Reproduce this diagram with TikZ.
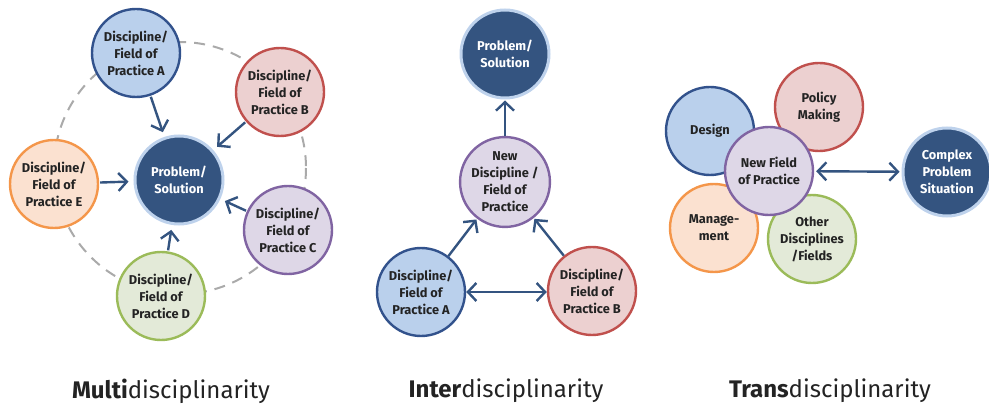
\documentclass[tikz,border=0pt]{standalone}
\usepackage{fontspec}
\setmainfont{Fira Sans}
\usetikzlibrary{arrows.meta}
\definecolor{navy}{RGB}{52,84,128}
\definecolor{halo}{RGB}{190,210,236}
\definecolor{bluefill}{RGB}{186,208,236}
\definecolor{blueline}{RGB}{50,82,140}
\definecolor{redfill}{RGB}{236,208,208}
\definecolor{redline}{RGB}{192,80,77}
\definecolor{purfill}{RGB}{222,215,231}
\definecolor{purline}{RGB}{128,100,162}
\definecolor{orfill}{RGB}{251,225,208}
\definecolor{orline}{RGB}{244,150,74}
\definecolor{grfill}{RGB}{227,234,216}
\definecolor{grline}{RGB}{155,187,89}
\definecolor{ringgray}{RGB}{170,170,170}
\definecolor{txt}{RGB}{35,35,35}
\tikzset{
  disc/.style={circle, minimum size=88pt, inner sep=0pt, line width=2.4pt,
    align=center, text=txt, font=\fontsize{12.8}{17}\selectfont\bfseries},
  bluec/.style={disc, draw=blueline, fill=bluefill},
  redc/.style={disc, draw=redline, fill=redfill},
  purc/.style={disc, draw=purline, fill=purfill},
  orc/.style={disc, draw=orline, fill=orfill},
  grc/.style={disc, draw=grline, fill=grfill},
  core/.style={disc, draw=halo, fill=navy, line width=3pt, text=white},
  tip/.style={Straight Barb[length=8.5pt,width=18pt,line width=2.4pt]},
  arr/.style={draw=navy, line width=2.4pt, -{Straight Barb[length=8.5pt,width=18pt,line width=2.4pt]}},
  darr/.style={draw=navy, line width=2.4pt,
    {Straight Barb[length=8.5pt,width=18pt,line width=2.4pt]}-{Straight Barb[length=8.5pt,width=18pt,line width=2.4pt]}},
  caption/.style={font=\fontsize{24}{28}\selectfont, text=txt}
}
\begin{document}
\begin{tikzpicture}[x=1pt,y=-1pt]
\useasboundingbox (0,0) rectangle (989,406);

% ---- Multidisciplinarity ----
\draw[ringgray, line width=2pt, dash pattern=on 11pt off 8pt] (180,168) circle (126);
\node[core]  (mP) at (179,180) {Problem/\\Solution};
\node[bluec] (mA) at (136,53)  {Discipline/\\Field of\\Practice A};
\node[redc]  (mB) at (280,92)  {Discipline/\\Field of\\Practice B};
\node[purc]  (mC) at (288,230) {Discipline/\\Field of\\Practice C};
\node[grc]   (mD) at (161,296) {Discipline/\\Field of\\Practice D};
\node[orc]   (mE) at (54,184)  {Discipline/\\Field of\\Practice E};
\foreach \s in {mA,mB,mC,mD,mE}
  \draw[arr, shorten <=1pt, shorten >=5pt] (\s) -- (mP);

% ---- Interdisciplinarity ----
\node[core]  (iP) at (505,54)  {Problem/\\Solution};
\node[purc]  (iN) at (505,182) {New\\Discipline /\\Field of\\Practice};
\node[bluec] (iA) at (421,292) {Discipline/\\Field of\\Practice A};
\node[redc]  (iB) at (592,291) {Discipline/\\Field of\\Practice B};
\draw[arr, shorten >=1pt] (iN) -- (iP);
\draw[arr, shorten >=1pt] (iA) -- (iN);
\draw[arr, shorten >=1pt] (iB) -- (iN);
\draw[darr] (iA.east) -- (iA.east -| iB.west);

% ---- Transdisciplinarity ----
\node[bluec] (tD) at (710,131) {Design};
\node[redc]  (tP) at (819,107) {Policy\\Making};
\node[orc]   (tM) at (714,228) {Manage-\\ment};
\node[grc]   (tO) at (812,239) {Other\\Disciplines\\/Fields};
\node[purc]  (tN) at (769,171) {New Field\\of Practice};
\node[core]  (tC) at (947,172) {Complex\\Problem\\Situation};
\draw[darr, shorten <=2pt, shorten >=2pt] (tN) -- (tC);

% ---- captions ----
\node[caption] (c1) at (171,391) {\textbf{Multi}disciplinarity};
\node[caption] (c2) at (506,391) {\textbf{Inter}disciplinarity};
\node[caption] (c3) at (830,391) {\textbf{Trans}disciplinarity};
\end{tikzpicture}
\end{document}
